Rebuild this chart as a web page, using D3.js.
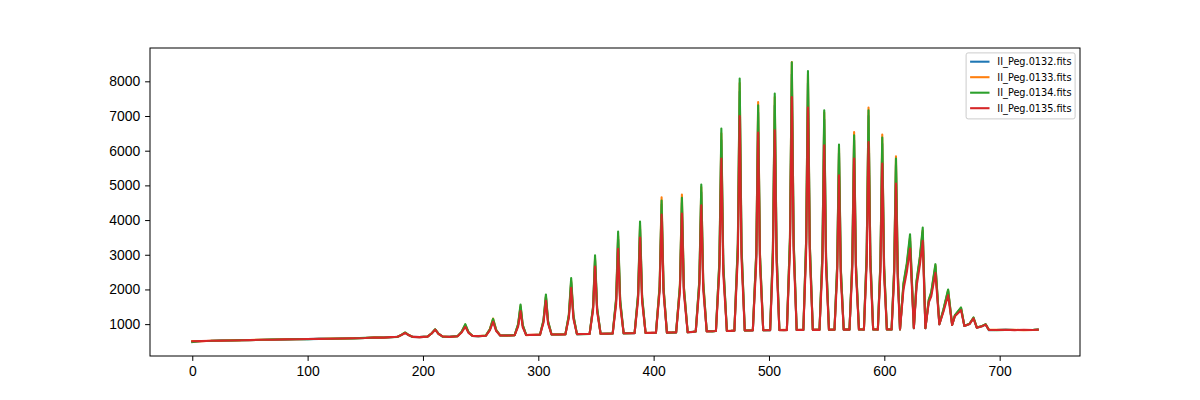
<!DOCTYPE html>
<html>
<head>
<meta charset="utf-8">
<script src="https://cdn.jsdelivr.net/npm/d3@7"></script>
<style>
    body { margin: 0; background: #fff; }
    svg { display: block; font-family: "DejaVu Sans", sans-serif; }
    .axis text { font-size: 13.9px; fill: #000; }
    .axis path, .axis line { stroke: #000; stroke-width: 1; }
</style>
</head>
<body>
<div id="chart"></div>
<script>
// pixel (x) positions along the spectrum
const pixels = [
    0, 8, 16, 25, 33, 42, 50, 60, 70, 80, 90, 100, 110, 120, 130, 140, 150, 158, 166, 172,
    178, 181.5, 184.5, 187.5, 191, 197,
    204, 207.5, 210.6, 213.5, 217, 223,
    230, 233.5, 236.7, 239.5, 243, 248,
    254.5, 258, 260.8, 263.5, 267, 273,
    279.5, 282.5, 284.6, 286.5, 289.5, 296,
    301.5, 304.5, 306.6, 308.5, 311.5, 318,
    323.5, 326.5, 328.5, 330.5, 333.5, 339,
    344.5, 347.5, 349.2, 351, 354, 360,
    364.5, 367.5, 369.2, 371, 374, 379,
    383.5, 386.5, 388.2, 390, 393, 398,
    402, 405.2, 406.9, 408.6, 411.5, 416,
    419.5, 422.8, 424.5, 426.2, 429.5, 434,
    436.5, 439.6, 441.3, 443, 446, 451,
    454, 457, 458.7, 460.4, 463.5, 467,
    470, 473, 474.6, 476.2, 479, 483,
    486, 489, 490.6, 492.2, 495, 499,
    501, 503.4, 505, 506.6, 509, 513,
    515.5, 518.2, 519.8, 521.4, 524, 528,
    529.8, 532.2, 533.8, 535.4, 538, 541,
    543.8, 546.3, 547.9, 549.5, 552, 555,
    556.8, 559.1, 560.7, 562.3, 564.8, 568,
    569.8, 572.2, 573.8, 575.4, 578, 580.5,
    582.3, 584.7, 586.3, 587.9, 590.3, 593,
    594.4, 596.6, 598.2, 599.8, 602.2, 604.8,
    606.3, 608.5, 610.1, 611.7, 613.6,
    616.6, 619.5, 622.3, 625.6,
    628, 630.8, 633.3, 635.6,
    638.5, 640.7, 644.3, 647.7,
    651.2, 655.3, 658.8,
    661.2, 666.5, 669.4,
    673.8, 677.3, 680.2,
    685, 687.8, 690.7,
    697, 705, 713, 721, 729, 733
];

const fits0132 = [
    495, 512, 516, 528, 531, 537, 542, 544, 554, 559, 567, 569, 576, 579, 586, 591, 601, 614, 613, 624,
    634, 690, 748, 686, 633, 626,
    641, 731, 845, 721, 644, 634,
    651, 770, 960, 760, 656, 652,
    666, 840, 1120, 820, 671, 668,
    681, 975, 1480, 955, 686, 688,
    696, 1085, 1780, 1055, 701, 703,
    706, 1230, 2200, 1200, 711, 714,
    719, 1470, 2850, 1430, 723, 726,
    729, 1680, 3450, 1630, 736, 737,
    741, 1790, 3750, 1740, 746, 747,
    751, 2050, 4450, 2000, 755, 757,
    761, 2060, 4500, 2010, 765, 776,
    789, 2180, 4800, 2130, 793, 795,
    801, 2710, 6300, 2640, 804, 806,
    813, 3200, 7700, 3120, 816, 818,
    821, 3000, 7100, 2930, 824, 826,
    826, 3070, 7300, 3000, 829, 831,
    829, 3390, 8200, 3300, 832, 834,
    833, 3300, 7950, 3220, 836, 838,
    836, 2940, 6900, 2860, 839, 841,
    839, 2610, 5950, 2530, 842, 844,
    841, 2730, 6300, 2650, 844, 846,
    842, 2980, 7000, 2900, 845, 847,
    843, 2700, 6200, 2620, 846, 848,
    844, 2500, 5600, 2420, 847,
    2100, 2650, 3400, 882,
    2200, 2850, 3650, 884,
    1650, 1880, 2650, 995,
    1390, 1950, 978,
    1245, 1450, 948,
    1003, 1170, 898,
    945, 990, 828,
    830, 836, 829, 833, 831, 839
];

const fits0133 = [
    510, 508, 522, 522, 533, 533, 545, 546, 556, 562, 563, 572, 573, 583, 583, 595, 598, 618, 610, 628,
    638, 692, 752, 688, 635, 622,
    642, 732, 848, 722, 648, 630,
    652, 775, 985, 765, 662, 658,
    670, 855, 1164, 835, 675, 665,
    684, 985, 1520, 965, 683, 692,
    697, 1095, 1800, 1065, 704, 705,
    710, 1250, 2250, 1220, 714, 718,
    722, 1480, 2900, 1440, 720, 728,
    730, 1710, 3550, 1660, 738, 740,
    745, 1830, 3850, 1780, 748, 750,
    754, 2120, 4659, 2070, 758, 760,
    764, 2150, 4737, 2100, 768, 780,
    792, 2230, 4950, 2250, 796, 798,
    804, 2780, 6500, 2700, 807, 809,
    816, 3290, 7950, 3200, 819, 821,
    824, 3100, 7405, 3020, 827, 829,
    829, 3160, 7550, 3080, 832, 834,
    832, 3510, 8557, 3420, 835, 837,
    836, 3390, 8200, 3300, 839, 841,
    839, 3010, 7100, 2930, 842, 844,
    842, 2660, 6100, 2580, 845, 847,
    844, 2820, 6540, 2740, 847, 849,
    845, 3060, 7243, 2980, 848, 850,
    846, 2800, 6465, 2720, 849, 851,
    847, 2580, 5840, 2500, 850,
    2150, 2720, 3500, 888,
    2240, 2900, 3700, 890,
    1690, 1900, 2700, 1005,
    1400, 1980, 985,
    1250, 1470, 955,
    1005, 1180, 905,
    948, 995, 835,
    835, 830, 836, 826, 833, 838
];

const fits0134 = [
    485, 515, 518, 530, 528, 540, 538, 550, 555, 558, 568, 566, 578, 578, 588, 590, 603, 612, 616, 622,
    632, 695, 760, 690, 630, 628,
    645, 735, 852, 725, 640, 636,
    655, 780, 1000, 770, 658, 650,
    668, 850, 1150, 830, 670, 675,
    682, 1000, 1568, 980, 688, 686,
    698, 1110, 1856, 1080, 702, 700,
    708, 1280, 2330, 1250, 710, 712,
    720, 1510, 2988, 1470, 724, 722,
    732, 1760, 3670, 1710, 734, 735,
    742, 1870, 3957, 1820, 744, 746,
    752, 2080, 4560, 2030, 754, 755,
    762, 2120, 4640, 2070, 765, 778,
    790, 2260, 5025, 2200, 794, 792,
    802, 2830, 6638, 2750, 805, 803,
    814, 3330, 8079, 3240, 817, 815,
    822, 3070, 7309, 2990, 825, 823,
    827, 3190, 7646, 3110, 830, 828,
    830, 3510, 8550, 3420, 833, 831,
    834, 3420, 8298, 3330, 837, 835,
    837, 3030, 7165, 2950, 840, 838,
    840, 2690, 6177, 2610, 843, 841,
    842, 2780, 6445, 2700, 845, 843,
    843, 3040, 7165, 2960, 846, 844,
    844, 2770, 6379, 2690, 847, 845,
    845, 2550, 5774, 2470, 848,
    2181, 2757, 3593, 885,
    2268, 2939, 3786, 885,
    1700, 1931, 2729, 1000,
    1420, 2000, 980,
    1259, 1481, 950,
    1010, 1193, 900,
    950, 1000, 832,
    828, 834, 832, 830, 836, 842
];

const fits0135 = [
    505, 510, 520, 525, 530, 535, 540, 548, 552, 560, 565, 570, 575, 580, 585, 592, 600, 615, 612, 625,
    635, 690, 745, 685, 632, 625,
    640, 730, 840, 720, 645, 632,
    650, 760, 923, 750, 660, 655,
    665, 820, 1066, 800, 672, 670,
    680, 930, 1375, 910, 685, 690,
    695, 1040, 1671, 1010, 700, 702,
    705, 1180, 2050, 1150, 712, 715,
    718, 1400, 2660, 1360, 722, 725,
    728, 1580, 3170, 1540, 735, 738,
    740, 1700, 3497, 1650, 745, 748,
    750, 1940, 4160, 1890, 756, 758,
    760, 1960, 4189, 1910, 764, 777,
    788, 2050, 4428, 2000, 792, 794,
    800, 2525, 5774, 2450, 803, 805,
    812, 2960, 7001, 2880, 815, 817,
    820, 2790, 6523, 2720, 823, 825,
    825, 2820, 6589, 2750, 828, 830,
    828, 3160, 7549, 3080, 831, 833,
    832, 3060, 7243, 2980, 835, 837,
    835, 2680, 6157, 2600, 838, 840,
    838, 2380, 5293, 2310, 841, 843,
    840, 2550, 5774, 2470, 843, 845,
    841, 2720, 6253, 2640, 844, 846,
    842, 2500, 5630, 2420, 845, 847,
    843, 2300, 5054, 2220, 846,
    2000, 2500, 3181, 880,
    2100, 2700, 3400, 880,
    1620, 1800, 2478, 990,
    1350, 1835, 975,
    1230, 1403, 945,
    1000, 1164, 895,
    942, 985, 830,
    832, 838, 828, 835, 830, 840
];

const seriesNames = ["II_Peg.0132.fits", "II_Peg.0133.fits", "II_Peg.0134.fits", "II_Peg.0135.fits"];
const seriesValues = [fits0132, fits0133, fits0134, fits0135];
const seriesColors = ["#1f77b4", "#ff7f0e", "#2ca02c", "#d62728"];

const xTicks = [0, 100, 200, 300, 400, 500, 600, 700];
const yTicks = [1000, 2000, 3000, 4000, 5000, 6000, 7000, 8000];

class SpectrumChart {
    constructor(parentElement) {
        this.parentElement = parentElement;
        this.initVis();
    }

    initVis() {
        let vis = this;

        vis.margin = {top: 48, right: 120, bottom: 44, left: 150};
        vis.width = 1200 - vis.margin.left - vis.margin.right;
        vis.height = 400 - vis.margin.top - vis.margin.bottom;

        vis.svg = d3.select("#" + vis.parentElement).append("svg")
            .attr("width", 1200)
            .attr("height", 400)
            .append("g")
            .attr("transform", "translate(" + vis.margin.left + "," + vis.margin.top + ")");

        // matplotlib style 5% margins around the data
        let xExt = d3.extent(pixels);
        let xPad = (xExt[1] - xExt[0]) * 0.05;
        let yExt = d3.extent(seriesValues.flat());
        let yPad = (yExt[1] - yExt[0]) * 0.05;

        vis.x = d3.scaleLinear()
            .domain([xExt[0] - xPad, xExt[1] + xPad])
            .range([0, vis.width]);

        vis.y = d3.scaleLinear()
            .domain([yExt[0] - yPad, yExt[1] + yPad])
            .range([vis.height, 0]);

        vis.xAxis = d3.axisBottom(vis.x)
            .tickValues(xTicks)
            .tickSize(4.9)
            .tickPadding(4.9)
            .tickFormat(d3.format("d"));

        vis.yAxis = d3.axisLeft(vis.y)
            .tickValues(yTicks)
            .tickSize(4.9)
            .tickPadding(4.9)
            .tickFormat(d3.format("d"));

        vis.svg.append("g")
            .attr("class", "x-axis axis")
            .attr("transform", "translate(0," + vis.height + ")")
            .call(vis.xAxis);

        vis.svg.append("g")
            .attr("class", "y-axis axis")
            .call(vis.yAxis);

        vis.svg.selectAll(".axis .domain").remove();
        vis.svg.selectAll(".x-axis text").attr("dy", "0.75em");

        vis.updateVis();
    }

    updateVis() {
        let vis = this;

        let line = d3.line()
            .x((d, i) => vis.x(pixels[i]))
            .y(d => vis.y(d));

        seriesValues.forEach((values, k) => {
            vis.svg.append("path")
                .datum(values)
                .attr("fill", "none")
                .attr("stroke", seriesColors[k])
                .attr("stroke-width", 2.08)
                .attr("stroke-linejoin", "round")
                .attr("stroke-linecap", "square")
                .attr("d", line);
        });

        // axes frame
        vis.svg.append("rect")
            .attr("width", vis.width)
            .attr("height", vis.height)
            .attr("fill", "none")
            .attr("stroke", "#000")
            .attr("stroke-width", 1);

        // legend, upper right
        let legend = vis.svg.append("g")
            .attr("transform", "translate(" + (vis.width - 4.9 - 109) + ",4.9)");

        legend.append("rect")
            .attr("width", 109)
            .attr("height", 66)
            .attr("rx", 2)
            .attr("fill", "#fff")
            .attr("fill-opacity", 0.8)
            .attr("stroke", "#ccc")
            .attr("stroke-width", 1);

        seriesNames.forEach((name, k) => {
            let row = legend.append("g")
                .attr("transform", "translate(4," + (8.8 + k * 15.5) + ")");
            row.append("line")
                .attr("x1", 0)
                .attr("x2", 19.4)
                .attr("stroke", seriesColors[k])
                .attr("stroke-width", 2.08);
            row.append("text")
                .attr("x", 27.2)
                .attr("dy", "0.35em")
                .attr("font-size", "9.72px")
                .text(name);
        });
    }
}

new SpectrumChart("chart");
</script>
</body>
</html>
